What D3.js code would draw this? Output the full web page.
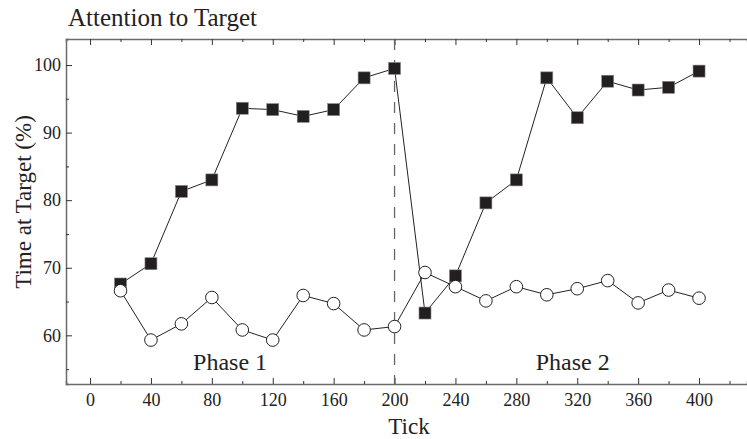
<!DOCTYPE html>
<html>
<head>
<meta charset="utf-8">
<script src="https://cdn.jsdelivr.net/npm/d3@7"></script>
<style>
  body { margin: 0; background: #fff; }
  svg { display: block; font-family: "Liberation Serif", "DejaVu Serif", serif; }
</style>
</head>
<body>
<svg id="chart"></svg>
<script>
// data
let ticks = [20, 40, 60, 80, 100, 120, 140, 160, 180, 200, 220, 240, 260, 280, 300, 320, 340, 360, 380, 400]
let squareValues = [67.6, 70.6, 81.3, 83.0, 93.6, 93.4, 92.4, 93.4, 98.1, 99.5, 63.3, 68.8, 79.6, 83.0, 98.1, 92.2, 97.6, 96.3, 96.7, 99.1]
let circleValues = [66.6, 59.3, 61.7, 65.6, 60.8, 59.3, 65.9, 64.7, 60.8, 61.3, 69.3, 67.2, 65.1, 67.2, 66.0, 66.9, 68.1, 64.8, 66.7, 65.5]
let xTickValues = [0, 40, 80, 120, 160, 200, 240, 280, 320, 360, 400]
let yTickValues = [60, 70, 80, 90, 100]
let phaseLabels = [{text: 'Phase 1', x: 92}, {text: 'Phase 2', x: 317}]
let phaseBreak = 200

// canvas dimensions
let width = 747
let height = 439
let plotLeft = 66
let plotTop = 39
let plotBottom = 384

let svg = d3.select('#chart')
    .attr('width', width)
    .attr('height', height)

let xScale = d3.scaleLinear()
    .domain([-15.8, 431.5])
    .range([plotLeft, width])

let yScale = d3.scaleLinear()
    .domain([52.8, 103.85])
    .range([plotBottom, plotTop])

let axisColor = '#6b6b6b'
let minorX = d3.range(0, 440, 20)
let minorY = d3.range(55, 105, 5)

// bottom axis (ticks point inward)
let xAxis = d3.axisBottom(xScale)
    .tickValues(minorX)
    .tickSize(-3)
    .tickPadding(10)
    .tickFormat(d => xTickValues.includes(d) ? d : '')

let gx = svg.append('g')
    .attr('transform', 'translate(0,' + plotBottom + ')')
    .call(xAxis)

// top axis, no labels
let gxTop = svg.append('g')
    .attr('transform', 'translate(0,' + plotTop + ')')
    .call(d3.axisTop(xScale).tickValues(minorX).tickSize(-3).tickFormat(''))

// left axis
let yAxis = d3.axisLeft(yScale)
    .tickValues(minorY)
    .tickSize(-3)
    .tickPadding(5)
    .tickFormat(d => yTickValues.includes(d) ? d : '')

let gy = svg.append('g')
    .attr('transform', 'translate(' + plotLeft + ',0)')
    .call(yAxis)

// major ticks are longer
gx.selectAll('.tick line').attr('y2', d => xTickValues.includes(d) ? -6 : -3)
gxTop.selectAll('.tick line').attr('y2', d => xTickValues.includes(d) ? 6 : 3)
gy.selectAll('.tick line').attr('x2', d => yTickValues.includes(d) ? 6 : 3)

let styleAxis = (g) => {
    g.select('.domain').attr('stroke', axisColor).attr('stroke-width', 1.5)
    g.selectAll('.tick line').attr('stroke', '#333').attr('stroke-width', 1)
    g.selectAll('text')
        .attr('fill', '#222')
        .style('font-family', '"Liberation Serif", serif')
        .style('font-size', '18px')
}
styleAxis(gx)
styleAxis(gxTop)
styleAxis(gy)
gx.selectAll('text').attr('dy', '0.71em').attr('y', 9)

// dashed phase divider
svg.append('line')
    .attr('x1', xScale(phaseBreak))
    .attr('x2', xScale(phaseBreak))
    .attr('y1', plotTop)
    .attr('y2', plotBottom)
    .attr('stroke', '#666')
    .attr('stroke-width', 1.3)
    .attr('stroke-dasharray', '11,10')

let line = (vals) => d3.line()
    .x((d, i) => xScale(ticks[i]))
    .y(d => yScale(d))(vals)

// connecting lines
svg.append('path')
    .attr('d', line(squareValues))
    .attr('fill', 'none')
    .attr('stroke', '#222')
    .attr('stroke-width', 1)

svg.append('path')
    .attr('d', line(circleValues))
    .attr('fill', 'none')
    .attr('stroke', '#222')
    .attr('stroke-width', 1)

// square markers
let sq = 12
svg.selectAll('rect.sq')
    .data(squareValues)
    .enter()
    .append('rect')
    .attr('class', 'sq')
    .attr('x', (d, i) => xScale(ticks[i]) - sq / 2)
    .attr('y', d => yScale(d) - sq / 2)
    .attr('width', sq)
    .attr('height', sq)
    .attr('fill', '#231f20')
    .attr('stroke', '#888')
    .attr('stroke-width', 0.6)

// circle markers
svg.selectAll('circle.ci')
    .data(circleValues)
    .enter()
    .append('circle')
    .attr('class', 'ci')
    .attr('cx', (d, i) => xScale(ticks[i]))
    .attr('cy', d => yScale(d))
    .attr('r', 6.3)
    .attr('fill', '#fff')
    .attr('stroke', '#222')
    .attr('stroke-width', 1)

// phase labels
svg.selectAll('text.phase')
    .data(phaseLabels)
    .enter()
    .append('text')
    .attr('class', 'phase')
    .attr('x', d => xScale(d.x))
    .attr('y', 370)
    .attr('text-anchor', 'middle')
    .attr('fill', '#222')
    .style('font-size', '24px')
    .text(d => d.text)

// title and axis titles
svg.append('text')
    .attr('x', 68)
    .attr('y', 26)
    .attr('fill', '#222')
    .style('font-size', '25px')
    .text('Attention to Target')

svg.append('text')
    .attr('x', 409)
    .attr('y', 434)
    .attr('text-anchor', 'middle')
    .attr('fill', '#222')
    .style('font-size', '23px')
    .text('Tick')

svg.append('text')
    .attr('transform', 'translate(31,202) rotate(-90)')
    .attr('text-anchor', 'middle')
    .attr('fill', '#222')
    .style('font-size', '23px')
    .text('Time at Target (%)')
</script>
</body>
</html>
